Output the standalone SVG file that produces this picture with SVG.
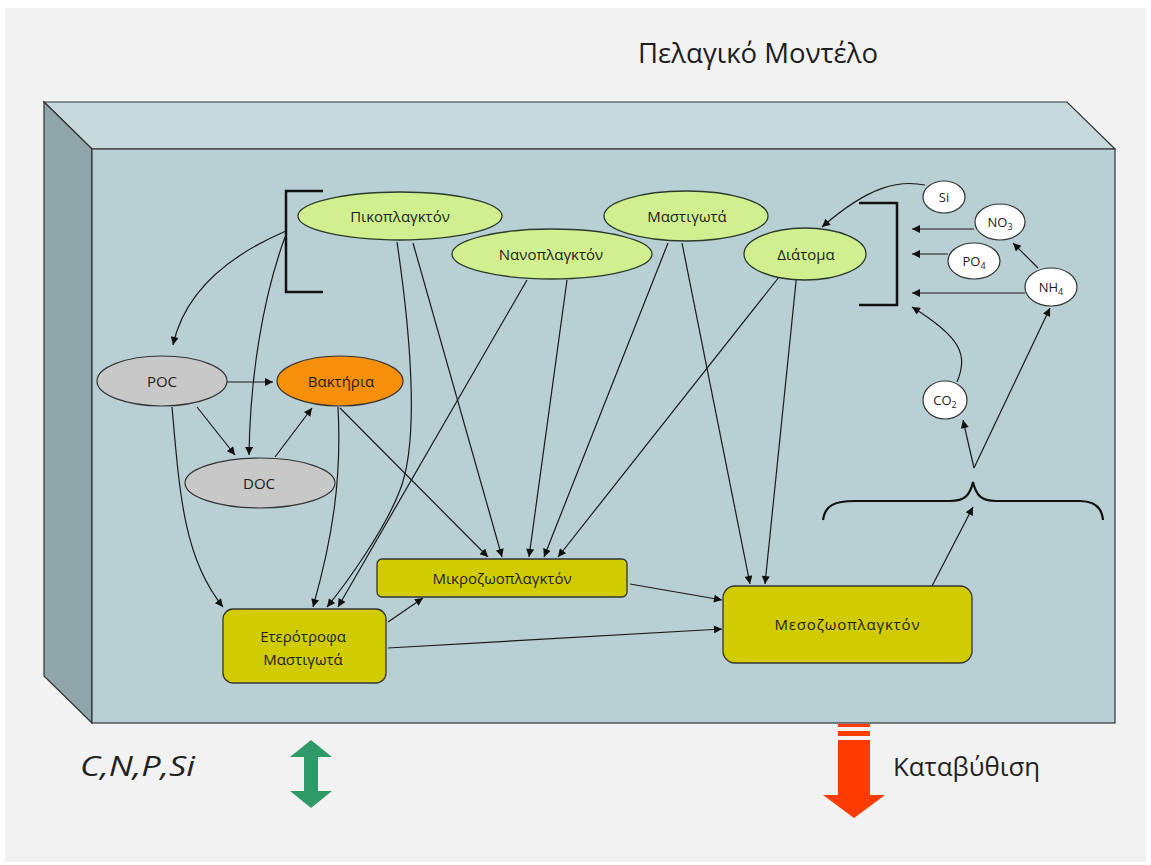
<svg xmlns="http://www.w3.org/2000/svg" width="1151" height="865" viewBox="0 0 1151 865">
<defs>
<marker id="ah" viewBox="0 0 10 10" refX="10" refY="5" markerWidth="10" markerHeight="8" orient="auto" markerUnits="userSpaceOnUse"><path d="M0,0 L10,5 L0,10 z" fill="#111"/></marker>
<style>
.c{fill:none;stroke:#1a1a1a;stroke-width:1.2;marker-end:url(#ah)}
.g{fill:#d0f090;stroke:#2b3a2b;stroke-width:1.3}
.gr{fill:#c8c8c8;stroke:#333;stroke-width:1.2}
.r{fill:#d0cc00;stroke:#333;stroke-width:1.3}
.w{fill:#fff;stroke:#333;stroke-width:1.2}
.t{font-family:"Open Sans","Noto Sans",sans-serif;fill:#1e1e1e;text-anchor:middle}
.br{fill:none;stroke:#111;stroke-width:2.5}
</style>
</defs>
<rect width="1151" height="865" fill="#fff"/>
<rect x="5" y="8" width="1141" height="854" fill="#f2f2f2"/>
<g id="box">
<polygon points="44,102 1067,102 1115,149 92,149" fill="#c6d9dd" stroke="#333" stroke-width="1.2"/>
<polygon points="44,102 92,149 92,723 44,676" fill="#91a6aa" stroke="#333" stroke-width="1.2"/>
<rect x="92" y="149" width="1023" height="574" fill="#b8cfd4" stroke="#333" stroke-width="1.2"/>
</g>
<text x="758" y="63" class="t" font-size="28" textLength="240" lengthAdjust="spacingAndGlyphs">Πελαγικό Μοντέλο</text>
<g id="brackets">
<path class="br" d="M323,191 H286 V292 H323"/>
<path class="br" d="M859,203 H897 V305 H859"/>
<path d="M823,520 C825,505 835,501 855,501 H950 C965,501 970,495 973,482 C976,495 981,501 996,501 H1080 C1095,501 1102,508 1103,520" fill="none" stroke="#111" stroke-width="2.2"/>
</g>
<g id="connectors">
<path class="c" d="M286,231 C230,255 185,290 173,345"/>
<path class="c" d="M285,237 C262,300 250,380 249,455"/>
<path class="c" d="M227,382 L273,382"/>
<path class="c" d="M197,407 L235,455"/>
<path class="c" d="M275,457 L312,408"/>
<path class="c" d="M172,407 C180,500 185,560 223,607"/>
<path class="c" d="M338,407 C342,480 332,540 313,607"/>
<path class="c" d="M340,408 L488,557"/>
<path class="c" d="M397,242 C410,330 420,440 400,490 C385,530 345,585 327,607"/>
<path class="c" d="M527,280 L338,607"/>
<path class="c" d="M413,243 L502,557"/>
<path class="c" d="M567,280 L529,557"/>
<path class="c" d="M668,243 L544,557"/>
<path class="c" d="M783,272 L558,557"/>
<path class="c" d="M682,243 L750,584"/>
<path class="c" d="M797,272 L765,584"/>
<path class="c" d="M630,584 L722,600"/>
<path class="c" d="M388,648 L722,629"/>
<path class="c" d="M388,622 L423,598"/>
<path class="c" d="M932,586 L973,507"/>
<path class="c" d="M925,185 C900,180 870,185 822,227"/>
<path class="c" d="M974,229 L912,229"/>
<path class="c" d="M948,254 L912,254"/>
<path class="c" d="M1025,293 L912,293"/>
<path class="c" d="M1038,268 L1013,243"/>
<path class="c" d="M957,382 C968,355 962,338 912,307"/>
<path class="c" d="M974,468 L963,420"/>
<path class="c" d="M974,468 L1050,308"/>
</g>
<g id="n-piko"><ellipse class="g" cx="400" cy="216" rx="102" ry="24"/><text class="t" x="400" y="222" font-size="15">Πικοπλαγκτόν</text></g>
<g id="n-nano"><ellipse class="g" cx="552" cy="254" rx="100" ry="25"/><text class="t" x="551" y="260" font-size="15">Νανοπλαγκτόν</text></g>
<g id="n-mast"><ellipse class="g" cx="686" cy="216" rx="82" ry="25"/><text class="t" x="687" y="222" font-size="15">Μαστιγωτά</text></g>
<g id="n-diat"><ellipse class="g" cx="805" cy="254" rx="61" ry="26"/><text class="t" x="806" y="260" font-size="15">Διάτομα</text></g>
<g id="n-poc"><ellipse class="gr" cx="162" cy="381" rx="65" ry="25"/><text class="t" x="162" y="387" font-size="15">POC</text></g>
<g id="n-bakt"><ellipse cx="340" cy="381" rx="63" ry="25" fill="#f6900a" stroke="#333" stroke-width="1.2"/><text class="t" x="341" y="387" font-size="15">Βακτήρια</text></g>
<g id="n-doc"><ellipse class="gr" cx="260" cy="483" rx="75" ry="25"/><text class="t" x="259" y="489" font-size="15">DOC</text></g>
<g id="n-eter"><rect class="r" x="223" y="609" width="163" height="74" rx="10"/><text class="t" x="303" y="642" font-size="15">Ετερότροφα</text><text class="t" x="303" y="665" font-size="15">Μαστιγωτά</text></g>
<g id="n-mikro"><rect class="r" x="377" y="559" width="250" height="38" rx="5"/><text class="t" x="502" y="584" font-size="15">Μικροζωοπλαγκτόν</text></g>
<g id="n-meso"><rect class="r" x="723" y="586" width="249" height="77" rx="12"/><text class="t" x="847" y="630" font-size="15" textLength="145" lengthAdjust="spacing">Μεσοζωοπλαγκτόν</text></g>
<g id="n-si"><ellipse class="w" cx="944" cy="197" rx="21" ry="16"/><text class="t" x="944" y="202" font-size="13">Si</text></g>
<g id="n-no3"><ellipse class="w" cx="1000" cy="222" rx="25" ry="18"/><text class="t" x="1000" y="227" font-size="13">NO<tspan font-size="9" dy="3">3</tspan></text></g>
<g id="n-po4"><ellipse class="w" cx="974" cy="261" rx="26" ry="18"/><text class="t" x="974" y="266" font-size="13">PO<tspan font-size="9" dy="3">4</tspan></text></g>
<g id="n-nh4"><ellipse class="w" cx="1051" cy="287" rx="26" ry="19"/><text class="t" x="1051" y="292" font-size="13">NH<tspan font-size="9" dy="3">4</tspan></text></g>
<g id="n-co2"><ellipse class="w" cx="945" cy="400" rx="22" ry="19"/><text class="t" x="945" y="405" font-size="13">CO<tspan font-size="9" dy="3">2</tspan></text></g>
<g id="flux">
<text x="80" y="776" font-family="Open Sans,Noto Sans,sans-serif" font-style="italic" font-size="27" fill="#222" textLength="115" lengthAdjust="spacingAndGlyphs">C,N,P,Si</text>
<polygon points="311,740 332,757 318,757 318,791 332,791 311,808 290,791 304,791 304,757 290,757" fill="#2e9a68"/>
<rect x="838" y="724" width="32" height="3" fill="#fe3b00"/>
<rect x="838" y="731" width="32" height="5" fill="#fe3b00"/>
<rect x="838" y="740" width="32" height="55" fill="#fe3b00"/>
<polygon points="823,795 885,795 854,818" fill="#fe3b00"/>
<text x="893" y="776" font-family="Open Sans,Noto Sans,sans-serif" font-size="26" fill="#222" textLength="147" lengthAdjust="spacingAndGlyphs">Καταβύθιση</text>
</g>
</svg>
